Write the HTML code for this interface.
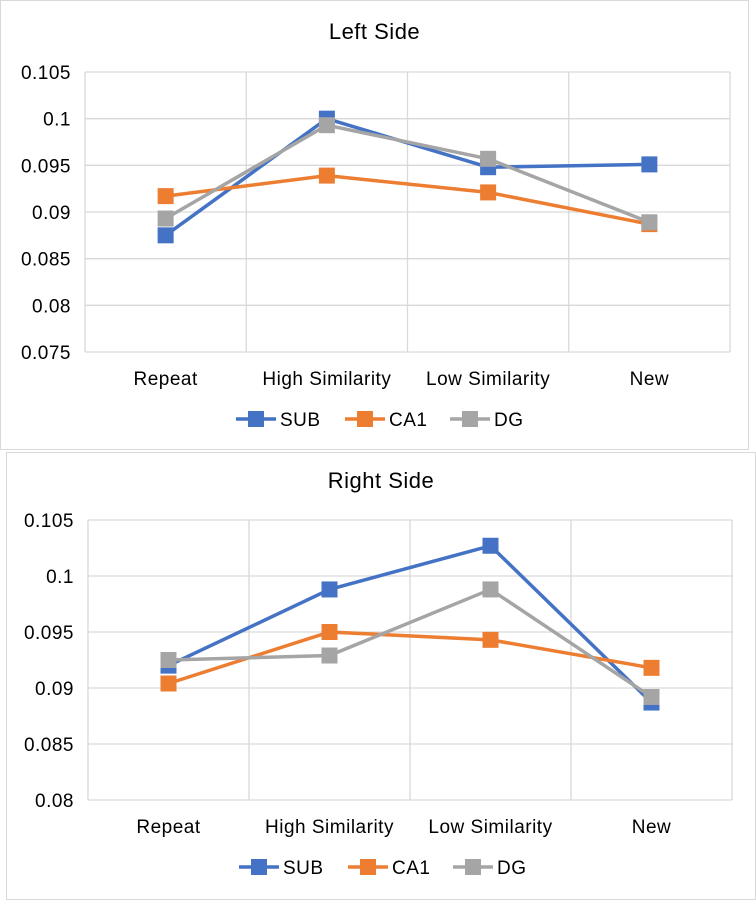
<!DOCTYPE html>
<html><head><meta charset="utf-8"><style>
body{margin:0;width:756px;height:900px;background:#fff;font-family:"Liberation Sans",Arial,sans-serif;overflow:hidden}
svg{position:absolute;left:0;top:0}
text{letter-spacing:0.5px}
</style></head><body>
<svg id="svg" width="756" height="900"></svg>
<script>
const categories=["Repeat","High Similarity","Low Similarity","New"];
const seriesNames=["SUB","CA1","DG"];
const colors=["#4472C4","#ED7D31","#A5A5A5"];
const leftSUB=[0.0875,0.1,0.0948,0.0951];
const leftCA1=[0.0917,0.0939,0.0921,0.0887];
const leftDG=[0.0893,0.0993,0.0957,0.0889];
const rightSUB=[0.0920,0.0988,0.1027,0.0887];
const rightCA1=[0.0904,0.0950,0.0943,0.0918];
const rightDG=[0.0925,0.0929,0.0988,0.0892];
const leftTicks=["0.105","0.1","0.095","0.09","0.085","0.08","0.075"];
const rightTicks=["0.105","0.1","0.095","0.09","0.085","0.08"];
const NS="http://www.w3.org/2000/svg";
const svg=document.getElementById('svg');
function mk(tag,attrs,parent,text){const e=document.createElementNS(NS,tag);for(const k in attrs)e.setAttribute(k,attrs[k]);if(text!==undefined)e.textContent=text;(parent||svg).appendChild(e);return e;}
function chart(cfg){
 const g=mk('g',{});
 
 
 const fr=mk('rect',{x:cfg.bx,y:cfg.by,width:cfg.bw,height:cfg.bh,fill:'#fff',stroke:'#d9d9d9'},g);
 
 const t=mk('text',{x:cfg.bx+cfg.bw/2,y:cfg.titleY,'text-anchor':'middle','font-size':22,fill:'#000'},g,cfg.title);
 
 const vals=cfg.ticks.map(Number);const ymax=vals[0],ymin=vals[vals.length-1];
 const Y=v=>cfg.py0+(ymax-v)/(ymax-ymin)*(cfg.py1-cfg.py0);
 const step=(cfg.px1-cfg.px0)/categories.length;
 const X=i=>cfg.px0+step*(i+0.5);
 cfg.ticks.forEach((tk,i)=>{const y=Y(vals[i]);
  const l=mk('line',{x1:cfg.px0,x2:cfg.px1,y1:y,y2:y,stroke:'#d9d9d9','stroke-width':1.3},g);
  
  const tt=mk('text',{x:cfg.px0-14,y:y+7,'text-anchor':'end','font-size':19,fill:'#000'},g,tk);
  });
 for(let i=0;i<=categories.length;i++){const x=cfg.px0+step*i;
  const l=mk('line',{x1:x,x2:x,y1:cfg.py0,y2:cfg.py1,stroke:'#d9d9d9','stroke-width':1.3},g);
  }
 categories.forEach((c,i)=>{const tt=mk('text',{x:X(i),y:cfg.py1+33,'text-anchor':'middle','font-size':19,fill:'#000'},g,c);
  });
 cfg.series.forEach((s,k)=>{
  const pts=s.map((v,i)=>X(i)+','+Y(v)).join(' ');
  const pl=mk('polyline',{points:pts,fill:'none',stroke:colors[k],'stroke-width':3.5,'stroke-linejoin':'round'},g);
  
  s.forEach((v,i)=>{const r=mk('rect',{x:X(i)-8,y:Y(v)-8,width:16,height:16,fill:colors[k]},g);
   });
 });
 const lx=[cfg.legX,cfg.legX+109,cfg.legX+214];
 seriesNames.forEach((n,k)=>{const y=cfg.legY;
  const lg=mk('g',{},g);
  mk('line',{x1:lx[k],x2:lx[k]+40,y1:y,y2:y,stroke:colors[k],'stroke-width':3.5},lg);
  mk('rect',{x:lx[k]+12,y:y-8,width:16,height:16,fill:colors[k]},lg);
  mk('text',{x:lx[k]+44,y:y+7,'font-size':19,fill:'#000'},lg,n);});
}
chart({name:'left-side-chart',title:'Left Side',bx:0.5,by:0.5,bw:748,bh:449,titleY:39,px0:85,px1:730,py0:72,py1:352,ticks:leftTicks,series:[leftSUB,leftCA1,leftDG],legX:236,legY:419});
chart({name:'right-side-chart',title:'Right Side',bx:6.5,by:452.5,bw:749,bh:447,titleY:488,px0:88,px1:732,py0:520,py1:800,ticks:rightTicks,series:[rightSUB,rightCA1,rightDG],legX:239,legY:867});
</script>
</body></html>
